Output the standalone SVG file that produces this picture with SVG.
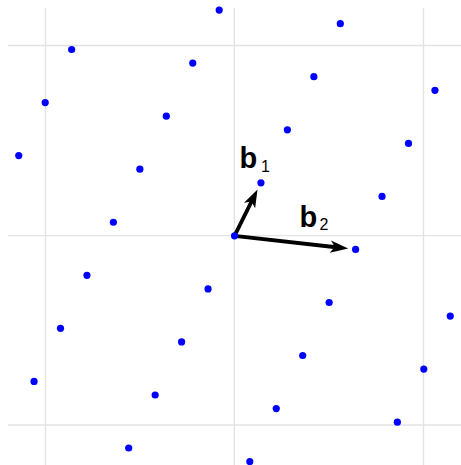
<svg xmlns="http://www.w3.org/2000/svg" width="461" height="465" viewBox="0 0 461 465">
  <style>
    .grid { stroke: #e3e3e3; stroke-width: 1.4; fill: none; }
    .pt { fill: #0000ff; }
    .vec { stroke: #000; stroke-width: 3.8; fill: none; }
    .lbl { font-family: "Liberation Sans", Arial, sans-serif; font-weight: bold; font-size: 29px; fill: #000; }
    .sub { font-family: "Liberation Sans", Arial, sans-serif; font-weight: normal; font-size: 16px; fill: #000; }
  </style>
  <defs>
    <marker id="head" markerUnits="userSpaceOnUse" orient="auto" refX="0" refY="0" markerWidth="24" markerHeight="16" overflow="visible">
      <path d="M10,0 L-8,-6.2 L-3.5,0 L-8,6.2 Z" fill="#000"/>
    </marker>
  </defs>
  <rect width="461" height="465" fill="#fff"/>
  <g id="grid">
    <line class="grid" x1="45.5" y1="8" x2="45.5" y2="465"/>
    <line class="grid" x1="234.3" y1="8" x2="234.3" y2="465"/>
    <line class="grid" x1="423.5" y1="8" x2="423.5" y2="465"/>
    <line class="grid" x1="8" y1="45.5" x2="461" y2="45.5"/>
    <line class="grid" x1="8" y1="235.6" x2="461" y2="235.6"/>
    <line class="grid" x1="8" y1="425" x2="461" y2="425"/>
  </g>
  <g id="connectors">
    <line id="b1-arrow" class="vec" x1="234.5" y1="235.85" x2="253.1" y2="198.4" marker-end="url(#head)"/>
    <line id="b2-arrow" class="vec" x1="234.5" y1="235.85" x2="338.3" y2="247.5" marker-end="url(#head)"/>
  </g>
  <g id="points">
    <circle class="pt" cx="340.3" cy="23.7" r="3.6"/>
    <circle class="pt" cx="313.85" cy="76.7" r="3.6"/>
    <circle class="pt" cx="287.4" cy="129.8" r="3.6"/>
    <circle class="pt" cx="260.95" cy="182.8" r="3.6"/>
    <circle class="pt" cx="234.5" cy="235.85" r="3.6"/>
    <circle class="pt" cx="208.05" cy="288.9" r="3.6"/>
    <circle class="pt" cx="181.6" cy="341.9" r="3.6"/>
    <circle class="pt" cx="155.15" cy="395" r="3.6"/>
    <circle class="pt" cx="128.7" cy="448" r="3.6"/>
    <circle class="pt" cx="434.95" cy="90.3" r="3.6"/>
    <circle class="pt" cx="408.5" cy="143.4" r="3.6"/>
    <circle class="pt" cx="382.05" cy="196.4" r="3.6"/>
    <circle class="pt" cx="355.6" cy="249.45" r="3.6"/>
    <circle class="pt" cx="329.15" cy="302.5" r="3.6"/>
    <circle class="pt" cx="302.7" cy="355.5" r="3.6"/>
    <circle class="pt" cx="276.25" cy="408.6" r="3.6"/>
    <circle class="pt" cx="249.8" cy="461.6" r="3.6"/>
    <circle class="pt" cx="450.25" cy="316.1" r="3.6"/>
    <circle class="pt" cx="423.8" cy="369.1" r="3.6"/>
    <circle class="pt" cx="397.35" cy="422.2" r="3.6"/>
    <circle class="pt" cx="219.2" cy="10.1" r="3.6"/>
    <circle class="pt" cx="192.75" cy="63.1" r="3.6"/>
    <circle class="pt" cx="166.3" cy="116.2" r="3.6"/>
    <circle class="pt" cx="139.85" cy="169.2" r="3.6"/>
    <circle class="pt" cx="113.4" cy="222.25" r="3.6"/>
    <circle class="pt" cx="86.95" cy="275.3" r="3.6"/>
    <circle class="pt" cx="60.5" cy="328.3" r="3.6"/>
    <circle class="pt" cx="34.05" cy="381.4" r="3.6"/>
    <circle class="pt" cx="71.65" cy="49.5" r="3.6"/>
    <circle class="pt" cx="45.2" cy="102.6" r="3.6"/>
    <circle class="pt" cx="18.75" cy="155.6" r="3.6"/>
  </g>
  <g id="label-b1">
    <text class="lbl" x="239.5" y="168">b</text>
    <text class="sub" x="261" y="171.5">1</text>
  </g>
  <g id="label-b2">
    <text class="lbl" x="299.5" y="226.5">b</text>
    <text class="sub" x="319.5" y="230">2</text>
  </g>
</svg>
